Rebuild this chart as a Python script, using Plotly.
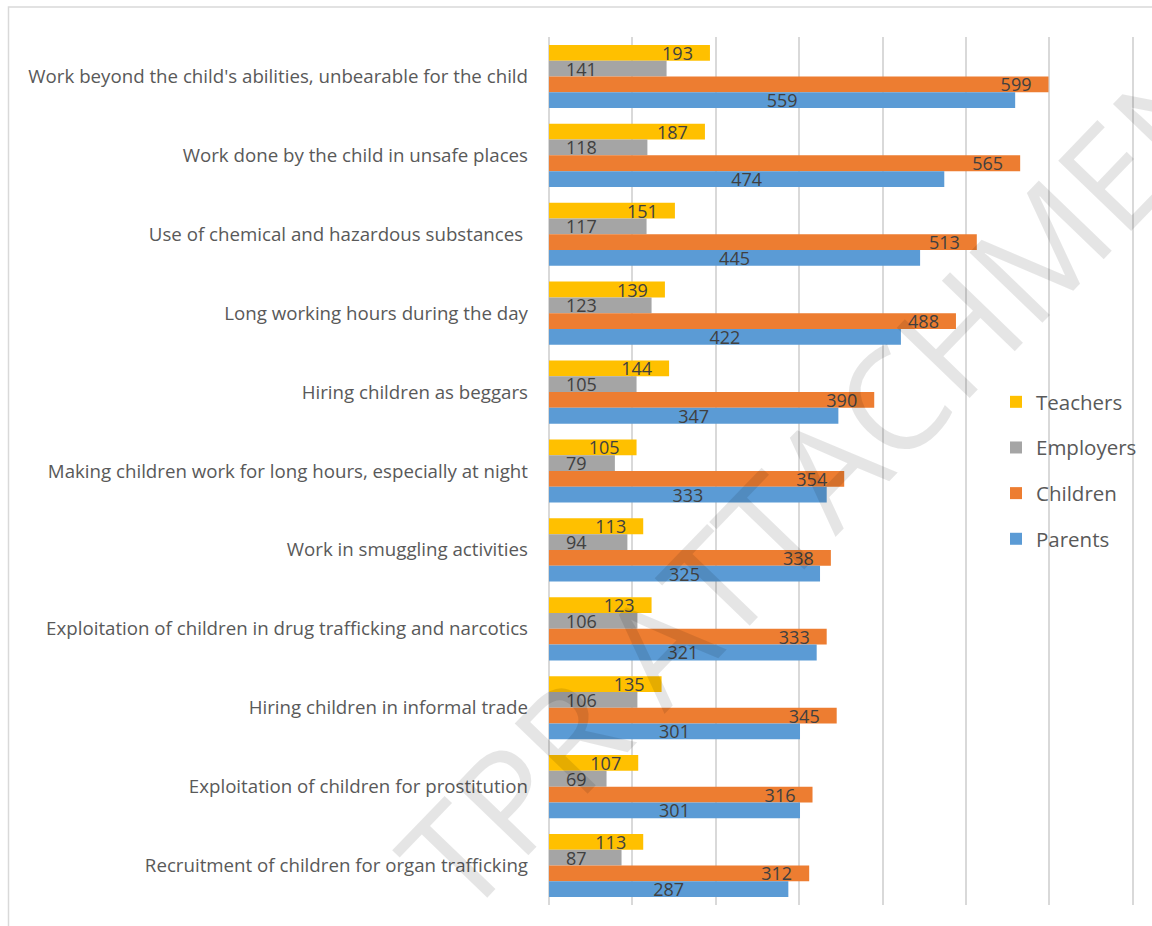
import plotly.graph_objects as go

categories = [
    "Work beyond the child's abilities, unbearable for the child",
    "Work done by the child in unsafe places",
    "Use of chemical and hazardous substances ",
    "Long working hours during the day",
    "Hiring children as beggars",
    "Making children work for long hours, especially at night",
    "Work in smuggling activities",
    "Exploitation of children in drug trafficking and narcotics",
    "Hiring children in informal trade",
    "Exploitation of children for prostitution",
    "Recruitment of children for organ trafficking",
]

teachers = [193, 187, 151, 139, 144, 105, 113, 123, 135, 107, 113]
employers = [141, 118, 117, 123, 105, 79, 94, 106, 106, 69, 87]
children = [599, 565, 513, 488, 390, 354, 338, 333, 345, 316, 312]
parents = [559, 474, 445, 422, 347, 333, 325, 321, 301, 301, 287]

PAD = "\u00a0\u00a0\u00a0"

series = [
    ("Teachers", teachers, "#FFC000", "end"),
    ("Employers", employers, "#A5A5A5", "start"),
    ("Children", children, "#ED7D31", "end"),
    ("Parents", parents, "#5B9BD5", "middle"),
]

W, H = 1152, 926
L, R, T, B = 549, 18, 37, 21
plot_w = W - L - R
plot_h = H - T - B


def label(v, anchor):
    if anchor == "end":
        return f"{v}{PAD}"
    if anchor == "start":
        return f"{PAD}{v}"
    return str(v)


fig = go.Figure()
for name, vals, color, anchor in series:
    fig.add_trace(go.Bar(
        name=name,
        y=categories,
        x=vals,
        orientation="h",
        marker=dict(color=color, line=dict(width=0)),
        text=[label(v, anchor) for v in vals],
        textposition="inside",
        insidetextanchor=anchor,
        textangle=0,
        constraintext="none",
        textfont=dict(family="Open Sans", size=18, color="#404040"),
        legendgroup=name,
        cliponaxis=False,
    ))


def px_to_paper_x(px):
    return (px - L) / plot_w


def px_to_paper_y(py):
    return (H - B - py) / plot_h


# chart frame
fig.add_shape(
    type="rect", xref="paper", yref="paper",
    x0=px_to_paper_x(8.5), x1=px_to_paper_x(1170),
    y0=px_to_paper_y(940), y1=px_to_paper_y(7),
    line=dict(color="#D9D9D9", width=1.5), fillcolor="rgba(0,0,0,0)",
    layer="below",
)

# diagonal watermark
fig.add_annotation(
    xref="paper", yref="paper",
    x=px_to_paper_x(845), y=px_to_paper_y(448),
    text="TPR ATTACHMENT", showarrow=False, textangle=-46,
    font=dict(family="Open Sans", size=142, color="rgba(0,0,0,0.1)", weight=500),
)

fig.update_layout(
    width=W, height=H,
    margin=dict(l=L, r=R, t=T, b=B, pad=0, autoexpand=False),
    paper_bgcolor="white", plot_bgcolor="white",
    barmode="group", bargap=0.2, bargroupgap=0,
    showlegend=True,
    legend=dict(
        x=px_to_paper_x(996), y=px_to_paper_y(382),
        xanchor="left", yanchor="top",
        font=dict(family="Open Sans", size=20.5, color="#595959"),
        tracegroupgap=16, bgcolor="rgba(0,0,0,0)",
        itemclick=False,
    ),
    xaxis=dict(
        range=[0, 701.5], tick0=0, dtick=100, showticklabels=False,
        showgrid=True, gridcolor="#D9D9D9", gridwidth=2,
        zeroline=True, zerolinecolor="#D9D9D9", zerolinewidth=2,
        showline=False, ticks="", fixedrange=True,
    ),
    yaxis=dict(
        autorange="reversed", type="category",
        tickfont=dict(family="Open Sans", size=18.7, color="#595959"),
        ticks="", showline=False, showgrid=False,
        ticklabelstandoff=20, fixedrange=True,
    ),
    font=dict(family="Open Sans"),
)

fig.write_html("out.html")
